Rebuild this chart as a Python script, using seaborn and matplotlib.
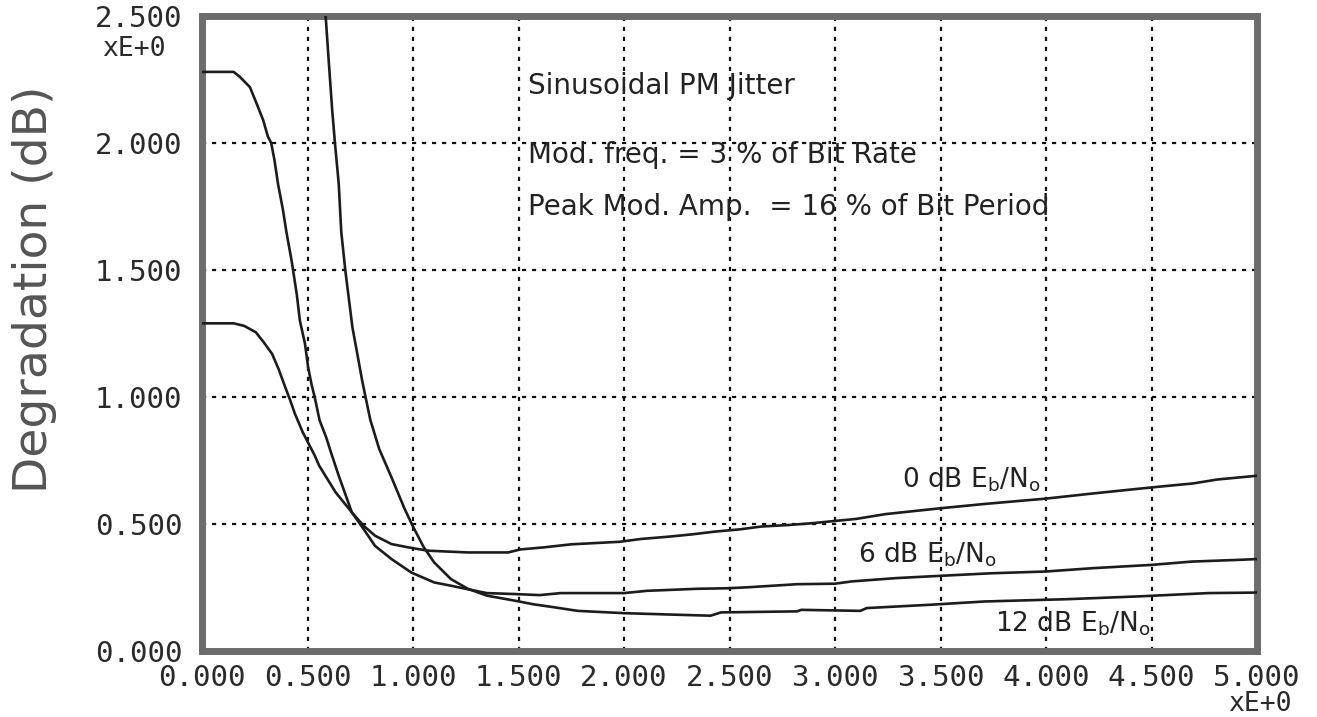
import matplotlib
matplotlib.use("Agg")
import matplotlib.pyplot as plt
import numpy as np
import pandas as pd
import seaborn as sns

# Degradation vs. normalized parameter for three Eb/No values
x_0db = [0.0, 0.15, 0.20, 0.255, 0.293, 0.332, 0.363, 0.394, 0.418, 0.44, 0.477, 0.534,
         0.555, 0.633, 0.71, 0.766, 0.82, 0.898, 0.977, 1.07, 1.26, 1.45, 1.51, 1.62,
         1.75, 1.98, 2.08, 2.21, 2.32, 2.43, 2.55, 2.65, 2.78, 2.89, 3.0, 3.1, 3.24,
         3.5, 3.71, 4.0, 4.22, 4.5, 4.7, 4.81, 5.0]
y_0db = [1.29, 1.29, 1.28, 1.255, 1.215, 1.17, 1.11, 1.04, 0.987, 0.935, 0.862, 0.77,
         0.73, 0.625, 0.546, 0.493, 0.454, 0.421, 0.408, 0.395, 0.388, 0.388, 0.40, 0.408,
         0.42, 0.43, 0.441, 0.45, 0.459, 0.47, 0.479, 0.49, 0.496, 0.503, 0.512, 0.52, 0.539,
         0.562, 0.579, 0.60, 0.62, 0.644, 0.66, 0.675, 0.69]

x_6db = [0.0, 0.15, 0.18, 0.227, 0.258, 0.29, 0.312, 0.328, 0.344, 0.36, 0.383, 0.40,
         0.425, 0.449, 0.464, 0.488, 0.503, 0.519, 0.534, 0.557, 0.589, 0.612, 0.648,
         0.71, 0.766, 0.82, 0.898, 0.992, 1.10, 1.18, 1.26, 1.35, 1.49, 1.60, 1.70, 2.0,
         2.11, 2.35, 2.49, 2.59, 2.82, 3.0, 3.08, 3.29, 3.5, 3.74, 4.0, 4.22, 4.5, 4.69,
         4.92, 5.0]
y_6db = [2.28, 2.28, 2.26, 2.22, 2.157, 2.09, 2.026, 2.0, 1.93, 1.84, 1.74, 1.65,
         1.535, 1.405, 1.30, 1.21, 1.117, 1.05, 1.0, 0.909, 0.84, 0.78, 0.69,
         0.546, 0.48, 0.414, 0.362, 0.309, 0.27, 0.257, 0.243, 0.228, 0.224, 0.22, 0.228, 0.228,
         0.237, 0.245, 0.247, 0.251, 0.263, 0.265, 0.274, 0.287, 0.296, 0.306, 0.313, 0.326,
         0.339, 0.352, 0.359, 0.362]

x_12db = [0.575, 0.586, 0.60, 0.617, 0.63, 0.648, 0.66, 0.679, 0.697, 0.713, 0.736, 0.759,
          0.775, 0.798, 0.84, 0.90, 0.96, 1.0, 1.05, 1.10, 1.18, 1.26, 1.35, 1.49, 1.57, 1.67,
          1.78, 2.0, 2.24, 2.41, 2.46, 2.82, 2.84, 3.12, 3.15, 3.45, 3.71, 4.1, 4.44, 4.77, 5.0]
y_12db = [2.65, 2.5, 2.33, 2.13, 2.0, 1.84, 1.65, 1.5, 1.38, 1.274, 1.17, 1.065,
          1.0, 0.909, 0.795, 0.68, 0.56, 0.49, 0.41, 0.349, 0.283, 0.245, 0.218, 0.197, 0.184, 0.172,
          0.158, 0.149, 0.143, 0.139, 0.152, 0.156, 0.162, 0.158, 0.169, 0.182, 0.195, 0.204,
          0.215, 0.228, 0.23]

curve_names = ["0 dB", "6 dB", "12 dB"]
x_ticks = [0.0, 0.5, 1.0, 1.5, 2.0, 2.5, 3.0, 3.5, 4.0, 4.5, 5.0]
y_ticks = [0.0, 0.5, 1.0, 1.5, 2.0, 2.5]

df = pd.concat([
    pd.DataFrame({"x": x_0db, "y": y_0db, "curve": curve_names[0]}),
    pd.DataFrame({"x": x_6db, "y": y_6db, "curve": curve_names[1]}),
    pd.DataFrame({"x": x_12db, "y": y_12db, "curve": curve_names[2]}),
], ignore_index=True)

sns.set_style("white")
plt.rcParams["font.family"] = ["DejaVu Sans"]
plt.rcParams["lines.scale_dashes"] = False
plt.rcParams["mathtext.default"] = "regular"

W, H = 1317, 717
fig = plt.figure(figsize=(W / 100, H / 100), dpi=100)
ax = fig.add_axes([202 / W, 66 / H, 1055 / W, 635 / H])

ink = "#1c1c1c"
sns.lineplot(data=df, x="x", y="y", hue="curve", palette={n: ink for n in curve_names},
             legend=False, estimator=None, sort=False, linewidth=1.9, ax=ax, zorder=3)

ax.set_xlim(0, 5)
ax.set_ylim(0, 2.5)
ax.set_xticks(x_ticks)
ax.set_yticks(y_ticks)
ax.set_xticklabels([f"{v:.3f}" for v in x_ticks])
ax.set_yticklabels([f"{v:.3f}" for v in y_ticks])
ax.set_xlabel("")
ax.set_ylabel("")

for lbl in ax.get_xticklabels() + ax.get_yticklabels():
    lbl.set_fontfamily("DejaVu Sans Mono")
    lbl.set_fontsize(21)
    lbl.set_color("#2a2a2a")
ax.tick_params(axis="x", length=0, pad=9)
ax.tick_params(axis="y", length=0, pad=14)

ax.set_axisbelow(True)
ax.grid(True, color="#111111", linestyle=(0, (3, 4.2)), linewidth=1.6)

for s in ax.spines.values():
    s.set_visible(True)
    s.set_linewidth(5)
    s.set_color("#6c6c6c")

# exponent markers for both axes
fig.text(134 / W, 1 - 49 / H, "xE+0", ha="center", va="center",
         family="DejaVu Sans Mono", fontsize=19, color="#2a2a2a")
fig.text(1260 / W, 1 - 704 / H, "xE+0", ha="center", va="center",
         family="DejaVu Sans Mono", fontsize=19, color="#2a2a2a")

fig.text(35 / W, 1 - 289 / H, "Degradation (dB)", rotation=90, ha="center", va="center",
         fontsize=34, color="#555555")

note_kw = dict(ha="left", va="center", family="DejaVu Sans", fontsize=20, color="#222222")
ax.text(1.545, 2.224, "Sinusoidal PM Jitter", **note_kw)
ax.text(1.545, 1.953, "Mod. freq. = 3 % of Bit Rate", **note_kw)
ax.text(1.545, 1.748, "Peak Mod. Amp.  = 16 % of Bit Period", **note_kw)

curve_kw = dict(ha="left", va="baseline", family="DejaVu Sans", fontsize=19, color="#222222")
ax.text(3.318, 0.642, "0 dB E$_{b}$/N$_{o}$", **curve_kw)
ax.text(3.11, 0.348, "6 dB E$_{b}$/N$_{o}$", **curve_kw)
ax.text(3.758, 0.075, "12 dB E$_{b}$/N$_{o}$", **curve_kw)

fig.savefig("out.png", dpi=100, facecolor="white")
